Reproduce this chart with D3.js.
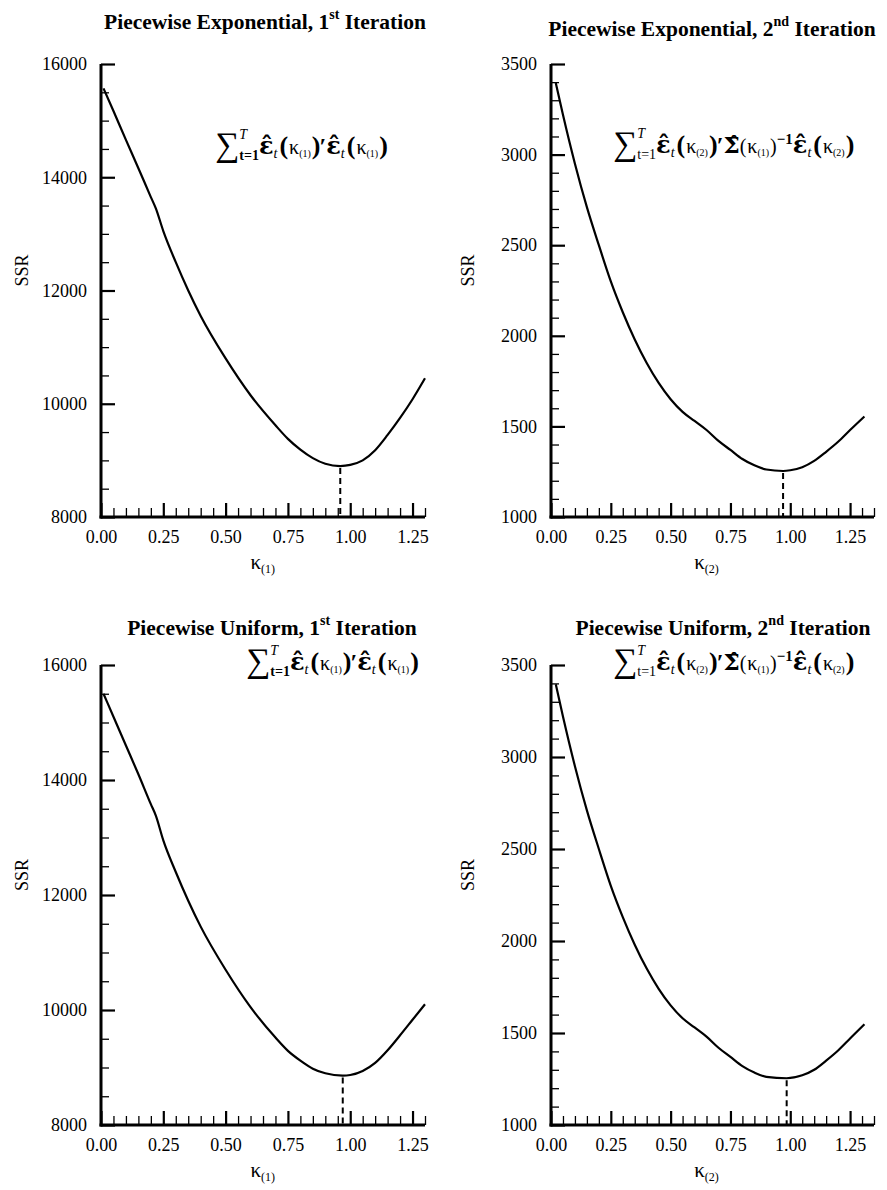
<!DOCTYPE html>
<html>
<head>
<meta charset="utf-8">
<script src="https://cdn.jsdelivr.net/npm/d3@7"></script>
<style>
  body { margin: 0; background: #fff; }
</style>
</head>
<body>
<div id="chart"></div>
<script>
// ---- data ----
const kappaPE1 = [0.01, 0.05, 0.10, 0.15, 0.20, 0.22, 0.25, 0.30, 0.35, 0.40, 0.50, 0.60, 0.70, 0.75, 0.80, 0.85, 0.90, 0.96, 1.00, 1.05, 1.10, 1.15, 1.20, 1.25, 1.30];
const ssrPE1   = [15570, 15170, 14660, 14160, 13650, 13450, 13050, 12500, 12000, 11550, 10800, 10150, 9620, 9380, 9190, 9040, 8940, 8900, 8920, 9000, 9180, 9450, 9750, 10080, 10450];

const kappaPE2 = [0.02, 0.05, 0.10, 0.15, 0.20, 0.25, 0.30, 0.35, 0.40, 0.45, 0.50, 0.55, 0.60, 0.65, 0.70, 0.75, 0.80, 0.85, 0.90, 0.97, 1.00, 1.05, 1.10, 1.15, 1.20, 1.25, 1.31];
const ssrPE2   = [3395, 3220, 2950, 2710, 2500, 2300, 2130, 1980, 1850, 1740, 1650, 1580, 1530, 1480, 1420, 1370, 1320, 1285, 1262, 1254, 1258, 1275, 1310, 1360, 1415, 1480, 1555];

const kappaPU1 = [0.01, 0.05, 0.10, 0.15, 0.20, 0.22, 0.25, 0.30, 0.35, 0.40, 0.50, 0.60, 0.70, 0.75, 0.80, 0.85, 0.90, 0.97, 1.00, 1.05, 1.10, 1.15, 1.20, 1.25, 1.30];
const ssrPU1   = [15500, 15100, 14600, 14100, 13580, 13380, 12950, 12400, 11900, 11450, 10700, 10050, 9520, 9290, 9120, 8980, 8900, 8860, 8870, 8940, 9080, 9300, 9560, 9830, 10100];

const kappaPU2 = [0.02, 0.05, 0.10, 0.15, 0.20, 0.25, 0.30, 0.35, 0.40, 0.45, 0.50, 0.55, 0.60, 0.65, 0.70, 0.75, 0.80, 0.85, 0.90, 0.985, 1.05, 1.10, 1.15, 1.20, 1.25, 1.31];
const ssrPU2   = [3395, 3220, 2950, 2710, 2500, 2300, 2130, 1980, 1850, 1740, 1650, 1580, 1530, 1480, 1420, 1370, 1320, 1285, 1262, 1254, 1270, 1300, 1350, 1405, 1470, 1548];

const xTickLabels = ["0.00", "0.25", "0.50", "0.75", "1.00", "1.25"];
const yTicksIter1 = [8000, 10000, 12000, 14000, 16000];
const yTicksIter2 = [1000, 1500, 2000, 2500, 3000, 3500];

const titles = [
  ["Piecewise Exponential, 1", "st", " Iteration"],
  ["Piecewise Exponential, 2", "nd", " Iteration"],
  ["Piecewise Uniform, 1", "st", " Iteration"],
  ["Piecewise Uniform, 2", "nd", " Iteration"]
];

const SERIF = "'Liberation Serif', 'DejaVu Serif', serif";

// ---- layout ----
const W = 887, H = 1190;
const svg = d3.select("#chart").append("svg").attr("width", W).attr("height", H)
  .style("font-family", SERIF);

const panels = [
  { k: kappaPE1, s: ssrPE1, title: titles[0], xMax: 1.30, yDom: [8000, 16000], yTicks: yTicksIter1, yMinor: 500,
    x0: 101, x1: 425, yTop: 64, yBot: 517, titleX: 265, titleY: 29, iter: 1, fX: 215, fY: 154, lab: "(1)", labOff: 73 },
  { k: kappaPE2, s: ssrPE2, title: titles[1], xMax: 1.35, yDom: [1000, 3500], yTicks: yTicksIter2, yMinor: 100,
    x0: 551, x1: 874, yTop: 64, yBot: 517, titleX: 712, titleY: 36, iter: 2, fX: 613, fY: 153, lab: "(2)", labOff: 77 },
  { k: kappaPU1, s: ssrPU1, title: titles[2], xMax: 1.30, yDom: [8000, 16000], yTicks: yTicksIter1, yMinor: 500,
    x0: 101, x1: 425, yTop: 665, yBot: 1125, titleX: 272, titleY: 635, iter: 1, fX: 246, fY: 670, lab: "(1)", labOff: 73 },
  { k: kappaPU2, s: ssrPU2, title: titles[3], xMax: 1.35, yDom: [1000, 3500], yTicks: yTicksIter2, yMinor: 100,
    x0: 551, x1: 874, yTop: 665, yBot: 1125, titleX: 723, titleY: 635, iter: 2, fX: 613, fY: 670, lab: "(2)", labOff: 77 }
];

// lay out a run of text pieces one after another, measuring each
function runText(g, x, y, pieces) {
  let cx = x;
  let stackX = null, stackW = 0;
  pieces.forEach(p => {
    const t = g.append("text")
      .attr("y", y + (p.dy || 0))
      .style("font-family", p.font || SERIF)
      .style("font-size", p.size + "px")
      .style("font-weight", p.bold ? "bold" : "normal")
      .style("font-style", p.italic ? "italic" : "normal")
      .text(p.t);
    if (p.stack) {
      t.attr("x", stackX);
      const w = t.node().getComputedTextLength();
      cx = Math.max(stackX + stackW, stackX + w) + (p.gap || 0);
      return;
    }
    t.attr("x", cx + (p.dx || 0));
    const w = t.node().getComputedTextLength();
    stackX = cx + (p.dx || 0);
    stackW = w;
    cx = cx + (p.dx || 0) + w + (p.gap || 0);
  });
  return cx;
}

function epsHat(sub) {
  return [
    { t: "\u03B5\u0302", size: 24, bold: true, font: "'DejaVu Serif'", gap: 0 },
    { t: sub, size: 14, italic: true, dy: 4, gap: 2 }
  ];
}
function kap(lab, big) {
  return [
    { t: "(", size: big ? 26 : 20, bold: big, gap: 1 },
    { t: "\u03BA", size: 20, gap: 0 },
    { t: lab, size: 10, dy: 3, gap: 1 },
    { t: ")", size: big ? 26 : 20, bold: big }
  ];
}

panels.forEach(p => {
  const g = svg.append("g");
  const x = d3.scaleLinear().domain([0, p.xMax]).range([p.x0, p.x1]);
  const y = d3.scaleLinear().domain(p.yDom).range([p.yBot, p.yTop]);

  // minor + major ticks on x axis (pointing inward)
  const xMinor = d3.range(0, p.xMax + 1e-9, 0.05).filter(v => Math.abs(v / 0.25 - Math.round(v / 0.25)) > 1e-6);
  g.append("g")
    .attr("transform", `translate(0,${p.yBot})`)
    .call(d3.axisTop(x).tickValues(xMinor).tickSize(9).tickFormat(""))
    .call(a => a.select(".domain").remove())
    .call(a => a.selectAll("line").attr("stroke", "#000").attr("stroke-width", 1.3));
  g.append("g")
    .attr("transform", `translate(0,${p.yBot})`)
    .call(d3.axisTop(x).tickValues(xTickLabels.map(Number)).tickSize(14).tickFormat(""))
    .call(a => a.select(".domain").remove())
    .call(a => a.selectAll("line").attr("stroke", "#000").attr("stroke-width", 2.2));
  g.append("g")
    .attr("transform", `translate(0,${p.yBot})`)
    .call(d3.axisBottom(x).tickValues(xTickLabels.map(Number)).tickSize(0).tickPadding(13)
      .tickFormat((d, i) => xTickLabels[i]))
    .call(a => a.select(".domain").remove())
    .call(a => a.attr("font-family", null).attr("font-size", null))
    .call(a => a.selectAll("text").style("font-size", "18px").style("font-family", SERIF));

  // y axis ticks pointing inward
  const yMinor = d3.range(p.yDom[0], p.yDom[1] + 1e-9, p.yMinor).filter(v => !p.yTicks.includes(v));
  g.append("g")
    .attr("transform", `translate(${p.x0},0)`)
    .call(d3.axisRight(y).tickValues(yMinor).tickSize(8).tickFormat(""))
    .call(a => a.select(".domain").remove())
    .call(a => a.selectAll("line").attr("stroke", "#000").attr("stroke-width", 1.3));
  g.append("g")
    .attr("transform", `translate(${p.x0},0)`)
    .call(d3.axisRight(y).tickValues(p.yTicks).tickSize(14).tickFormat(""))
    .call(a => a.select(".domain").remove())
    .call(a => a.selectAll("line").attr("stroke", "#000").attr("stroke-width", 2.2));
  g.append("g")
    .attr("transform", `translate(${p.x0},0)`)
    .call(d3.axisLeft(y).tickValues(p.yTicks).tickSize(0).tickPadding(14).tickFormat(d3.format("d")))
    .call(a => a.select(".domain").remove())
    .call(a => a.attr("font-family", null).attr("font-size", null))
    .call(a => a.selectAll("text").style("font-size", "18px").style("font-family", SERIF));

  // axis lines
  g.append("line").attr("x1", p.x0 - 1.5).attr("x2", p.x1).attr("y1", p.yBot).attr("y2", p.yBot)
    .attr("stroke", "#000").attr("stroke-width", 3);
  g.append("line").attr("x1", p.x0).attr("x2", p.x0).attr("y1", p.yBot + 1.5).attr("y2", p.yTop)
    .attr("stroke", "#000").attr("stroke-width", 3);

  // curve
  const pts = p.k.map((k, i) => [k, p.s[i]]);
  g.append("path").datum(pts)
    .attr("fill", "none").attr("stroke", "#000").attr("stroke-width", 2.2)
    .attr("d", d3.line().x(d => x(d[0])).y(d => y(d[1])).curve(d3.curveMonotoneX));

  // dashed drop line at the minimum
  const m = d3.least(pts, d => d[1]);
  g.append("line")
    .attr("x1", x(m[0])).attr("x2", x(m[0]))
    .attr("y1", y(m[1]) + 2).attr("y2", p.yBot)
    .attr("stroke", "#000").attr("stroke-width", 2).attr("stroke-dasharray", "6,4");

  // title
  const tt = g.append("text").attr("x", p.titleX).attr("y", p.titleY)
    .attr("text-anchor", "middle").style("font-family", SERIF)
    .style("font-size", "21.5px").style("font-weight", "bold");
  tt.append("tspan").text(p.title[0]);
  tt.append("tspan").attr("dy", -10).style("font-size", "14px").text(p.title[1]);
  tt.append("tspan").attr("dy", 10).text(p.title[2]);

  // y label
  const yc = (p.yTop + p.yBot) / 2 - 20;
  g.append("text").attr("transform", `translate(${p.x0 - p.labOff},${yc}) rotate(-90)`)
    .attr("text-anchor", "middle").style("font-family", SERIF).style("font-size", "18px").text("SSR");

  // x label kappa_(n)
  const xl = g.append("text").attr("x", (p.x0 + x(1.25)) / 2 + 6).attr("y", p.yBot + 52)
    .attr("text-anchor", "middle").style("font-family", SERIF);
  xl.append("tspan").style("font-size", "21px").text("\u03BA");
  xl.append("tspan").attr("dy", 4).style("font-size", "12px").text(p.lab);

  // formula
  const fg = g.append("g");
  let pieces;
  if (p.iter === 1) {
    pieces = [
      { t: "\u2211", size: 34, dy: 2 },
      { t: "T", size: 14, italic: true, dy: -15 },
      { t: "t=1", size: 14, bold: true, dy: 6, stack: true, gap: 0 },
      ...epsHat("t"), ...kap(p.lab, true),
      { t: "\u2032", size: 24, bold: true, dx: -1 },
      ...epsHat("t"), ...kap(p.lab, true)
    ];
  } else {
    pieces = [
      { t: "\u2211", size: 34, dy: 2 },
      { t: "T", size: 14, italic: true, dy: -15 },
      { t: "t=1", size: 14, dy: 6, stack: true, gap: 0 },
      ...epsHat("t"), ...kap("(2)", true),
      { t: "\u2032", size: 24, bold: true, dx: -1 },
      { t: "\u03A3\u0302", size: 23, bold: true, font: "'DejaVu Serif'" },
      ...kap("(1)", false),
      { t: "\u22121", size: 15, bold: true, dy: -9 },
      ...epsHat("t"), ...kap("(2)", true)
    ];
  }
  runText(fg, p.fX, p.fY, pieces);
});
</script>
</body>
</html>
